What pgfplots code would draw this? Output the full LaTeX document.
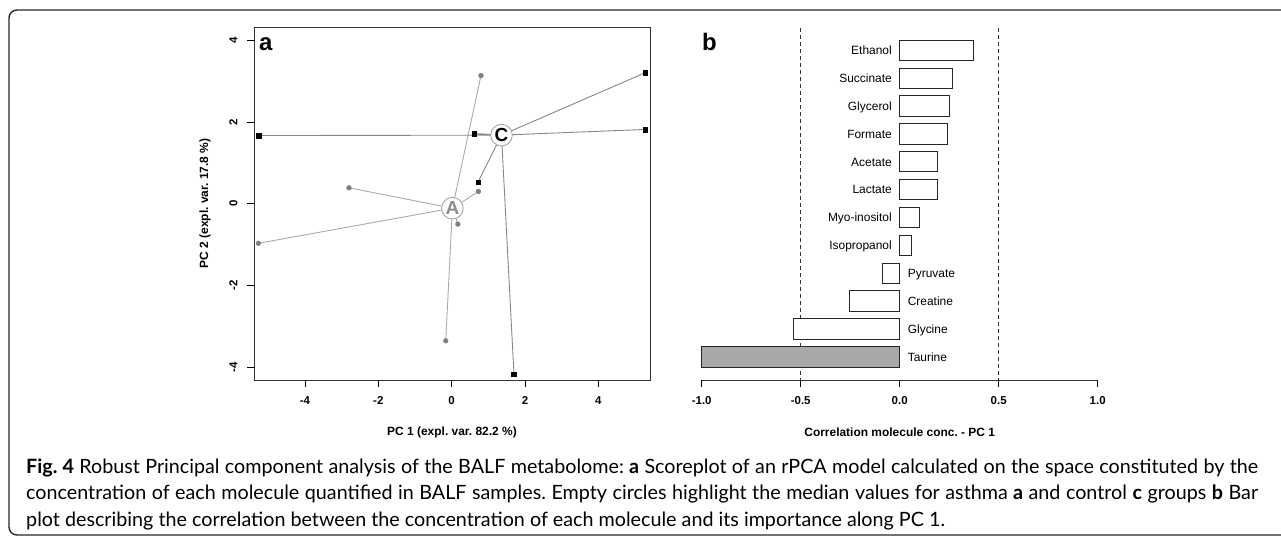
\documentclass[border=0pt]{standalone}
\usepackage{fontspec}
\setmainfont{Liberation Sans}
\newfontfamily\capfont{Lato}
\usepackage{pgfplots}
\pgfplotsset{compat=1.18}
\definecolor{spokeA}{RGB}{170,170,170}
\definecolor{spokeC}{RGB}{135,135,135}
\definecolor{dotA}{RGB}{128,128,128}
\definecolor{taurine}{RGB}{168,168,168}
\definecolor{framecol}{RGB}{40,40,40}
\frenchspacing

\begin{document}
\begin{tikzpicture}
% figure frame
\draw[line width=1.4bp, framecol] (1290bp,-10bp) -- (17bp,-10bp)
  arc[start angle=90, end angle=180, radius=8bp] -- (9bp,-527bp)
  arc[start angle=180, end angle=270, radius=8bp] -- (1290bp,-535bp);

% ---- panel a: score plot
\begin{axis}[
  scale only axis, width=396bp, height=353bp,
  at={(254bp,-380bp)}, anchor=south west,
  xmin=-5.39, xmax=5.41, ymin=-4.32, ymax=4.33,
  xtick={-4,-2,0,2,4}, xticklabels={-4,-2,0,2,4},
  ytick={-4,-2,0,2,4}, yticklabels={-4,-2,0,2,4},
  tick align=outside, xtick pos=bottom, ytick pos=left,
  major tick length=7bp,
  tick style={black, line width=0.8bp},
  axis line style={black!80, line width=1bp},
  ticklabel style={font=\fontsize{11.5}{12}\selectfont\bfseries},
  xticklabel style={yshift=-6bp},
  yticklabel style={rotate=90, anchor=south, yshift=6bp},
  xlabel={PC 1 (expl. var. 82.2 \%)},
  ylabel={PC 2 (expl. var. 17.8 \%)},
  label style={font=\fontsize{12}{13}\selectfont\bfseries},
  xlabel style={at={(axis description cs:0.5,0)}, anchor=center, yshift=-52bp},
  ylabel style={at={(axis description cs:0,0.5)}, anchor=center, yshift=49bp},
  clip=false,
]
% spokes from the group medians
\addplot[spokeA, line width=0.9bp, mark=none, unbounded coords=jump] coordinates {
  (0.02,-0.11) (0.80,3.14) (nan,nan)
  (0.02,-0.11) (-2.80,0.39) (nan,nan)
  (0.02,-0.11) (0.73,0.30) (nan,nan)
  (0.02,-0.11) (0.17,-0.50) (nan,nan)
  (0.02,-0.11) (-5.27,-0.97) (nan,nan)
  (0.02,-0.11) (-0.16,-3.36)
};
\addplot[spokeC, line width=0.9bp, mark=none, unbounded coords=jump] coordinates {
  (1.36,1.68) (5.28,3.21) (nan,nan)
  (1.36,1.68) (5.28,1.82) (nan,nan)
  (1.36,1.68) (-5.26,1.67) (nan,nan)
  (1.36,1.68) (0.62,1.72) (nan,nan)
  (1.36,1.68) (0.72,0.53) (nan,nan)
  (1.36,1.68) (1.70,-4.18)
};
% asthma samples
\addplot[only marks, mark=*, mark size=2.4bp, color=dotA] coordinates {
  (0.80,3.14) (-2.80,0.39) (0.73,0.30) (0.17,-0.50) (-5.27,-0.97) (-0.16,-3.36)
};
% control samples
\addplot[only marks, mark=square*, mark size=2.3bp, color=black] coordinates {
  (5.28,3.21) (5.28,1.82) (-5.26,1.67) (0.62,1.72) (0.72,0.53) (1.70,-4.18)
};
% medians
\addplot[only marks, mark=*, mark size=10.8bp,
  mark options={fill=white, draw=gray!70, line width=0.9bp},
  nodes near coords, point meta=explicit symbolic,
  every node near coord/.append style={anchor=center, text=gray!90,
    font=\fontsize{19}{19}\selectfont\bfseries}]
  coordinates {(0.02,-0.11) [A]};
\addplot[only marks, mark=*, mark size=10.8bp,
  mark options={fill=white, draw=gray!70, line width=0.9bp},
  nodes near coords, point meta=explicit symbolic,
  every node near coord/.append style={anchor=center, text=black,
    font=\fontsize{19}{19}\selectfont\bfseries}]
  coordinates {(1.36,1.68) [C]};
\end{axis}
\node[anchor=base west, inner sep=0pt, font=\fontsize{24}{24}\selectfont\bfseries] at (259bp,-50.5bp) {a};

% ---- panel b: correlation bar plot
\begin{axis}[
  scale only axis, width=396bp, height=352bp,
  at={(701.7bp,-380bp)}, anchor=south west,
  xmin=-1, xmax=1, ymin=-0.8, ymax=11.83, y dir=reverse,
  axis y line=none, axis x line*=bottom,
  xtick={-1,-0.5,0,0.5,1}, xticklabels={-1.0,-0.5,0.0,0.5,1.0},
  tick align=outside, major tick length=7bp,
  tick style={black, line width=0.8bp},
  axis line style={black!80, line width=1bp},
  ticklabel style={font=\fontsize{11.5}{12}\selectfont\bfseries},
  xticklabel style={yshift=-6bp},
  xlabel={Correlation molecule conc. - PC 1},
  label style={font=\fontsize{12}{13}\selectfont\bfseries},
  xlabel style={at={(axis description cs:0.5,0)}, anchor=center, yshift=-52bp},
  clip=false,
]
\addplot[black!80, dash pattern=on 4bp off 3bp, line width=0.9bp, mark=none]
  coordinates {(-0.5,-0.8) (-0.5,11.83)};
\addplot[black!80, dash pattern=on 4bp off 3bp, line width=0.9bp, mark=none]
  coordinates {(0.5,-0.8) (0.5,11.83)};
\addplot[xbar, bar shift=0pt, bar width=0.73, fill=white, draw=black!85, line width=1bp]
  coordinates {(0.375,0) (0.266,1) (0.252,2) (0.242,3) (0.192,4) (0.192,5)
               (0.101,6) (0.059,7) (-0.089,8) (-0.253,9) (-0.535,10)};
\addplot[xbar, bar shift=0pt, bar width=0.73, fill=taurine, draw=black!85, line width=1bp]
  coordinates {(-1.0,11)};
% molecule names
\addplot[draw=none, mark=none, nodes near coords, point meta=explicit symbolic,
  every node near coord/.append style={anchor=base east, inner sep=0pt, yshift=-4.3bp,
    font=\fontsize{12}{12}\selectfont}]
  coordinates {(-0.039,0) [Ethanol] (-0.039,1) [Succinate] (-0.039,2) [Glycerol]
               (-0.039,3) [Formate] (-0.039,4) [Acetate] (-0.039,5) [Lactate]
               (-0.039,6) [Myo-inositol] (-0.039,7) [Isopropanol]};
\addplot[draw=none, mark=none, nodes near coords, point meta=explicit symbolic,
  every node near coord/.append style={anchor=base west, inner sep=0pt, yshift=-4.3bp,
    font=\fontsize{12}{12}\selectfont}]
  coordinates {(0.04,8) [Pyruvate] (0.04,9) [Creatine] (0.04,10) [Glycine] (0.04,11) [Taurine]};
\end{axis}
\node[anchor=base west, inner sep=0pt, font=\fontsize{24}{24}\selectfont\bfseries] at (702bp,-50.5bp) {b};

% ---- caption
\begin{scope}[every node/.style={anchor=base west, inner sep=0pt, font=\capfont\fontsize{19.8}{20}\selectfont}]
\node at (26bp,-473bp) {\makebox[1232bp][s]{\textbf{Fig. 4} Robust Principal component analysis of the BALF metabolome: \textbf{a} Scoreplot of an rPCA model calculated on the space constituted by the}};
\node at (26bp,-499.5bp) {\makebox[1232bp][s]{concentration of each molecule quantified in BALF samples. Empty circles highlight the median values for asthma \textbf{a} and control \textbf{c} groups \textbf{b} Bar}};
\node at (26bp,-526bp) {plot describing the correlation between the concentration of each molecule and its importance along PC 1.};
\end{scope}

\pgfresetboundingbox
\path[use as bounding box] (0bp,0bp) rectangle (1281bp,-536bp);
\end{tikzpicture}
\end{document}
